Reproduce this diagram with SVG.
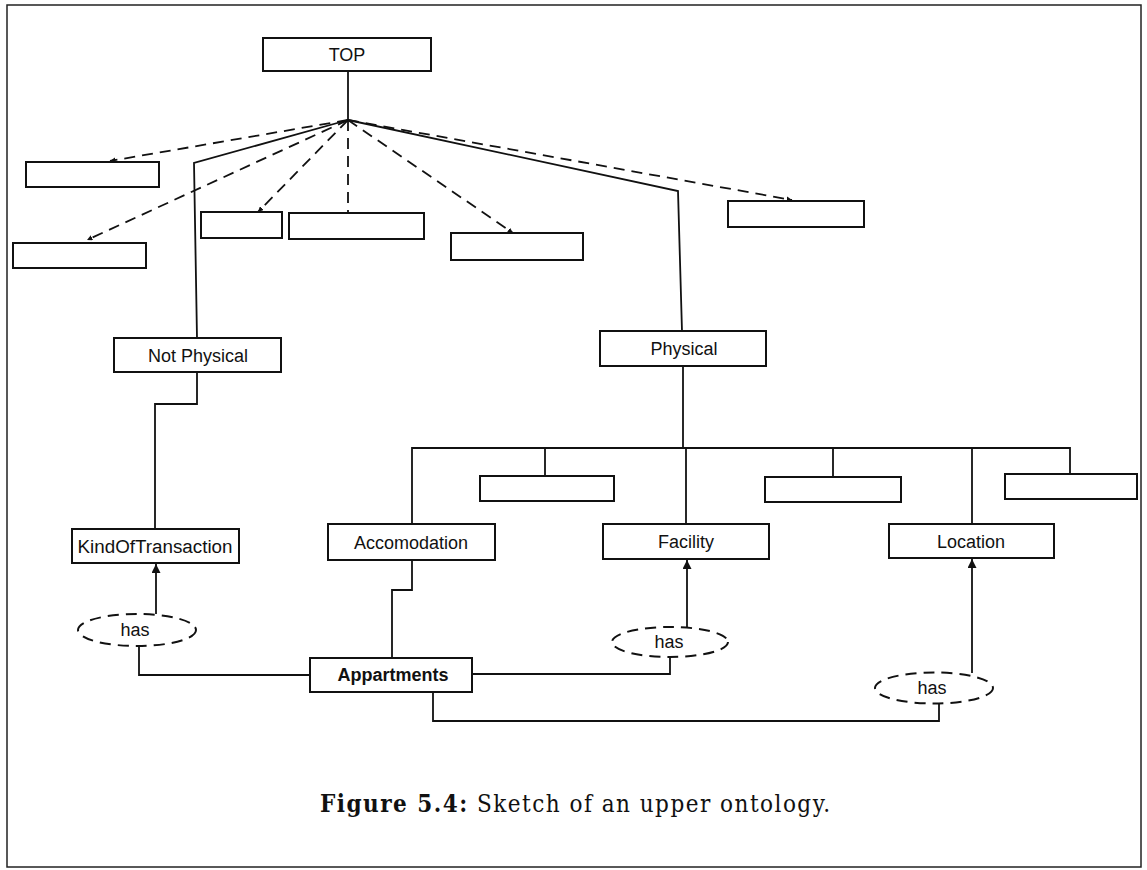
<svg xmlns="http://www.w3.org/2000/svg" width="1147" height="870" viewBox="0 0 1147 870">
<defs>
<style>
.box{fill:#fff;stroke:#111;stroke-width:2}
.lbl{font-family:"Liberation Sans",Arial,sans-serif;font-size:18px;fill:#111;text-anchor:middle}
.ln{fill:none;stroke:#111;stroke-width:1.8}
.dash{fill:none;stroke:#111;stroke-width:1.8;stroke-dasharray:11 7}
.ell{fill:#fff;stroke:#111;stroke-width:2;stroke-dasharray:11 7}
</style>
<marker id="arr" viewBox="0 0 10 10" refX="10" refY="5" markerWidth="5" markerHeight="5" orient="auto">
<path d="M0,0 L10,5 L0,10 z" fill="#111"/>
</marker>
<marker id="sarr" viewBox="0 0 10 10" refX="10" refY="5" markerWidth="3" markerHeight="3" orient="auto">
<path d="M0,0 L10,5 L0,10 z" fill="#111"/>
</marker>
</defs>
<rect width="1147" height="870" fill="#fff"/>
<rect x="7" y="5" width="1134" height="862" fill="none" stroke="#222" stroke-width="1.5"/>

<g id="connectors">
<path class="ln" d="M348,71 V120"/>
<path class="dash" d="M348,120 L110,161" marker-end="url(#sarr)"/>
<path class="dash" d="M348,120 L87,240" marker-end="url(#sarr)"/>
<path class="dash" d="M348,120 L258,212" marker-end="url(#sarr)"/>
<path class="dash" d="M348,120 V213"/>
<path class="dash" d="M348,120 L513,233" marker-end="url(#sarr)"/>
<path class="dash" d="M348,120 L792,200" marker-end="url(#sarr)"/>
<path class="ln" d="M348,120 L194,163 L197,338"/>
<path class="ln" d="M348,120 L678,191 L682,331"/>
<path class="ln" d="M197,372 V404 H155 V529"/>
<path class="ln" d="M683,366 V448"/>
<path class="ln" d="M412,525 V448 H1070 V474"/>
<path class="ln" d="M545,448 V476"/>
<path class="ln" d="M686,448 V524"/>
<path class="ln" d="M833,448 V477"/>
<path class="ln" d="M972,448 V524"/>
<path class="ln" d="M412,560 V590 H392 V658"/>
<path class="ln" d="M156,614 V564" marker-end="url(#arr)"/>
<path class="ln" d="M139,646 V675 H310"/>
<path class="ln" d="M472,674 H670 V657"/>
<path class="ln" d="M687,627 V560" marker-end="url(#arr)"/>
<path class="ln" d="M433,692 V721 H939 V703"/>
<path class="ln" d="M972,673 V559" marker-end="url(#arr)"/>
</g>

<g id="top"><rect class="box" x="263" y="38" width="168" height="33"/><text class="lbl" x="347" y="61" font-size="19">TOP</text></g>
<g id="u1"><rect class="box" x="26" y="162" width="133" height="25"/></g>
<g id="u2"><rect class="box" x="13" y="243" width="133" height="25"/></g>
<g id="u3"><rect class="box" x="201" y="212" width="81" height="26"/></g>
<g id="u4"><rect class="box" x="289" y="213" width="135" height="26"/></g>
<g id="u5"><rect class="box" x="451" y="233" width="132" height="27"/></g>
<g id="u6"><rect class="box" x="728" y="201" width="136" height="26"/></g>
<g id="notphysical"><rect class="box" x="114" y="338" width="167" height="34"/><text class="lbl" x="198" y="362">Not Physical</text></g>
<g id="physical"><rect class="box" x="600" y="331" width="166" height="35"/><text class="lbl" x="684" y="355">Physical</text></g>
<g id="u7"><rect class="box" x="480" y="476" width="134" height="25"/></g>
<g id="u8"><rect class="box" x="765" y="477" width="136" height="25"/></g>
<g id="u9"><rect class="box" x="1005" y="474" width="132" height="25"/></g>
<g id="kindoftransaction"><rect class="box" x="72" y="529" width="167" height="34"/><text class="lbl" x="155" y="553" textLength="155" lengthAdjust="spacingAndGlyphs">KindOfTransaction</text></g>
<g id="accomodation"><rect class="box" x="328" y="524" width="167" height="36"/><text class="lbl" x="411" y="549">Accomodation</text></g>
<g id="facility"><rect class="box" x="603" y="524" width="166" height="35"/><text class="lbl" x="686" y="548">Facility</text></g>
<g id="location"><rect class="box" x="889" y="524" width="165" height="34"/><text class="lbl" x="971" y="548">Location</text></g>
<g id="has1"><ellipse class="ell" cx="137" cy="630" rx="59" ry="16"/><text class="lbl" x="135" y="636">has</text></g>
<g id="has2"><ellipse class="ell" cx="670" cy="642" rx="58" ry="15"/><text class="lbl" x="669" y="648">has</text></g>
<g id="has3"><ellipse class="ell" cx="934" cy="688" rx="59" ry="15.5"/><text class="lbl" x="932" y="694">has</text></g>
<g id="appartments"><rect class="box" x="310" y="658" width="162" height="34"/><text class="lbl" x="393" y="681" font-weight="bold">Appartments</text></g>

<text x="320" y="812" font-family="'DejaVu Serif Condensed','DejaVu Serif','Liberation Serif',serif" font-stretch="condensed" font-size="24" fill="#111" textLength="510" lengthAdjust="spacing"><tspan font-weight="bold">Figure 5.4:</tspan> Sketch of an upper ontology.</text>
</svg>
